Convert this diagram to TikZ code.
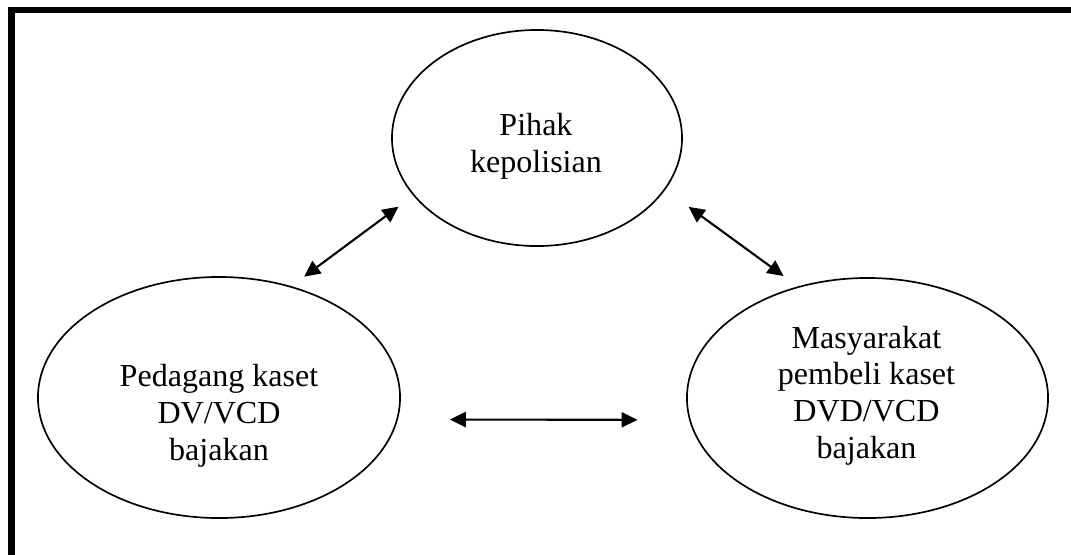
\documentclass[tikz,border=0pt]{standalone}
\usepackage{fontspec}
\setmainfont{Liberation Serif}
\usetikzlibrary{arrows.meta,shapes.geometric}
\tikzset{
  party/.style={ellipse,draw=black,line width=1.2pt,inner sep=0pt},
  partytext/.style={align=center,font=\fontsize{22.8}{26.2}\selectfont},
  link/.style={{Triangle[length=0.4cm,width=0.38cm]}-{Triangle[length=0.4cm,width=0.38cm]},draw=black,line width=1.5pt},
  frame/.style={draw=black,line width=0.165cm}
}

\begin{document}
\begin{tikzpicture}[x=0.025cm,y=-0.025cm]
\useasboundingbox (0,0) rectangle (1071,554);
\draw[frame] (11.5,600) -- (11.5,10) -- (1120,10);
\node[party,minimum width=7.25cm,minimum height=5.4cm] (pol) at (537,138) {};
\node[partytext] (poltxt) at (536,146) {Pihak\\kepolisian};
\node[party,minimum width=9.05cm,minimum height=6.025cm] (ped) at (219,397.5) {};
\node[partytext] (pedtxt) at (219,416) {Pedagang kaset\\DV/VCD\\bajakan};
\node[party,minimum width=9.025cm,minimum height=6cm] (mas) at (867.5,398) {};
\node[partytext] (mastxt) at (866.5,395.7) {Masyarakat\\pembeli kaset\\DVD/VCD\\bajakan};
\draw[link,shorten <=0.4cm,shorten >=0.46cm] (ped.57) -- (pol.205);
\draw[link,shorten <=0.72cm,shorten >=0.44cm] (pol.338) -- (mas.122.5);
\draw[link,shorten <=1.3cm,shorten >=1.29cm] (ped.-7.9) -- (mas.187.7);
\end{tikzpicture}
\end{document}
